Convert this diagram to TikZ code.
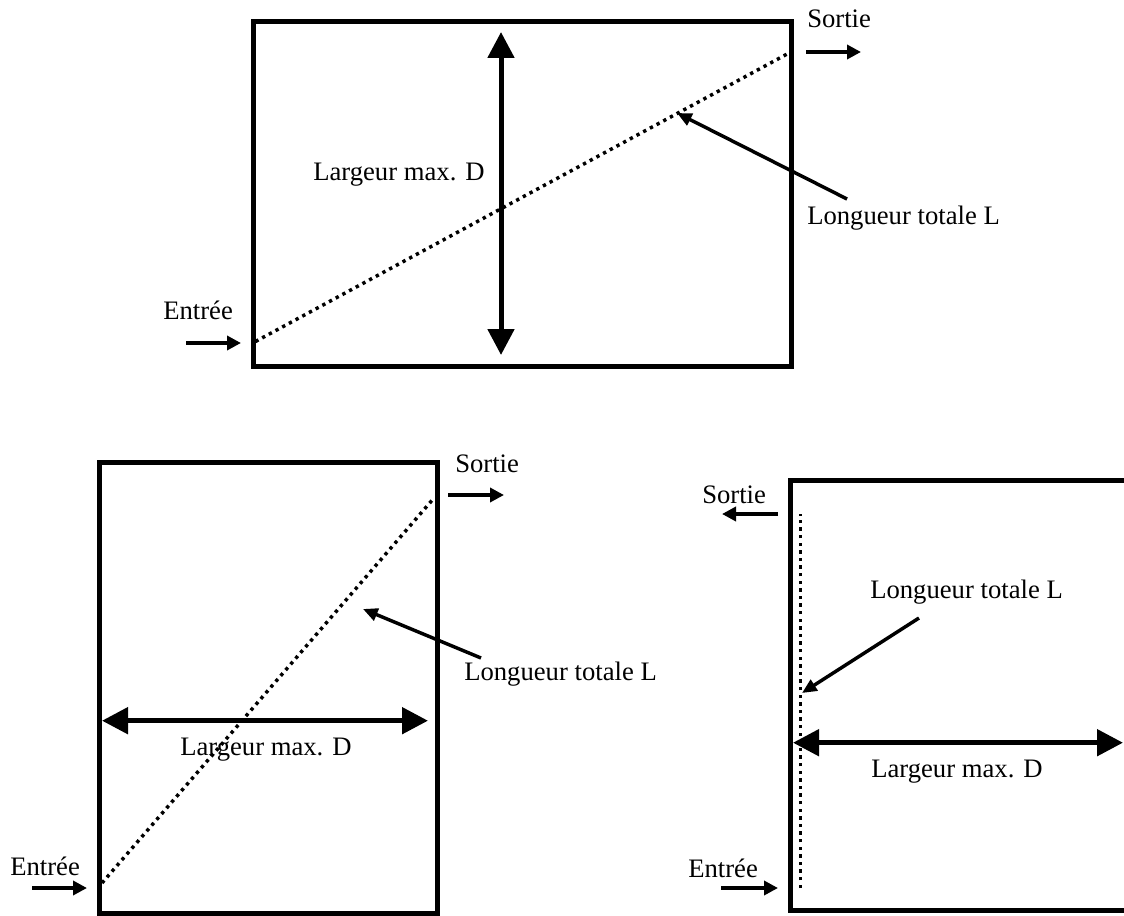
\documentclass[tikz,border=0pt]{standalone}
\usepackage{fontspec}
\setmainfont{Liberation Serif}
\usetikzlibrary{arrows.meta}
\tikzset{
  lbl/.style={inner sep=0pt, anchor=base west, font=\fontsize{20}{24}\selectfont},
  boxline/.style={line width=3.75pt, line join=miter},
  bigarrow/.style={line width=3.75pt, {Triangle[length=19.5pt,width=19.5pt]}-{Triangle[length=19.5pt,width=19.5pt]}},
  flowarrow/.style={line width=3.4pt, -{Triangle[length=10.5pt,width=10.5pt]}},
  pointer/.style={line width=2.6pt, -{Triangle[length=11pt,width=9.5pt]}},
  pathline/.style={line width=2.6pt, dash pattern=on 2.5pt off 3.2pt},
}
\begin{document}
\begin{tikzpicture}[x=0.75pt,y=-0.75pt]
\useasboundingbox (0,0) rectangle (1124,916);
\clip (0,0) rectangle (1124,916);
\fill[white] (0,0) rectangle (1124,916);

% ---------- Top diagram ----------
\coordinate (A1) at (253,21.5);
\coordinate (A2) at (791,366);
\draw[boxline] (A1) rectangle (A2);
\coordinate (Atop) at (501,32);
\coordinate (Abot) at (501,355);
\draw[bigarrow] (Atop) -- (Abot);
\coordinate (Ain) at (255.5,341.5);
\coordinate (Aout) at (789,53);
\draw[pathline] (Ain) -- (Aout);
\node[lbl] (AinT) at (163,320) {Entrée};
\coordinate (AinS) at (186,343);
\coordinate (AinE) at (241,343);
\draw[flowarrow] (AinS) -- (AinE);
\node[lbl] (AoutT) at (807,28) {Sortie};
\coordinate (AoutS) at (806,52);
\coordinate (AoutE) at (861,52);
\draw[flowarrow] (AoutS) -- (AoutE);
\node[lbl] (AD) at (313,181) {Largeur max. D};
\node[lbl] (AL) at (807,225) {Longueur totale L};
\coordinate (APs) at (847,199);
\coordinate (APe) at (677,113);
\draw[pointer] (APs) -- (APe);

% ---------- Bottom-left diagram ----------
\coordinate (B1) at (99.5,462.5);
\coordinate (B2) at (437,913);
\draw[boxline] (B1) rectangle (B2);
\coordinate (Bl) at (102,720.7);
\coordinate (Br) at (428,720.7);
\draw[bigarrow] (Bl) -- (Br);
\coordinate (Bin) at (102,883);
\coordinate (Bout) at (434,498);
\draw[pathline] (Bin) -- (Bout);
\node[lbl] (BinT) at (10,875) {Entrée};
\coordinate (BinS) at (32,888);
\coordinate (BinE) at (87,888);
\draw[flowarrow] (BinS) -- (BinE);
\node[lbl] (BoutT) at (455,472) {Sortie};
\coordinate (BoutS) at (448,495);
\coordinate (BoutE) at (504,495);
\draw[flowarrow] (BoutS) -- (BoutE);
\node[lbl] (BD) at (180,755) {Largeur max. D};
\node[lbl] (BL) at (464,680) {Longueur totale L};
\coordinate (BPs) at (481,658);
\coordinate (BPe) at (363,609);
\draw[pointer] (BPs) -- (BPe);

% ---------- Bottom-right diagram ----------
\coordinate (C1) at (1135,480.5);
\coordinate (C2) at (790,480.5);
\coordinate (C3) at (790,910.5);
\coordinate (C4) at (1135,910.5);
\draw[boxline] (C1) -- (C2) -- (C3) -- (C4);
\coordinate (Cl) at (793,742.7);
\coordinate (Cr) at (1123,742.7);
\draw[bigarrow] (Cl) -- (Cr);
\coordinate (Cin) at (800.7,888);
\coordinate (Cout) at (800.7,514);
\draw[pathline] (Cin) -- (Cout);
\node[lbl] (CinT) at (688,877) {Entrée};
\coordinate (CinS) at (721,888);
\coordinate (CinE) at (778,888);
\draw[flowarrow] (CinS) -- (CinE);
\node[lbl] (CoutT) at (702,503) {Sortie};
\coordinate (CoutS) at (778,514);
\coordinate (CoutE) at (722,514);
\draw[flowarrow] (CoutS) -- (CoutE);
\node[lbl] (CD) at (871,777) {Largeur max. D};
\node[lbl] (CL) at (870,598) {Longueur totale L};
\coordinate (CPs) at (919,618);
\coordinate (CPe) at (802,693);
\draw[pointer] (CPs) -- (CPe);
\end{tikzpicture}
\end{document}
